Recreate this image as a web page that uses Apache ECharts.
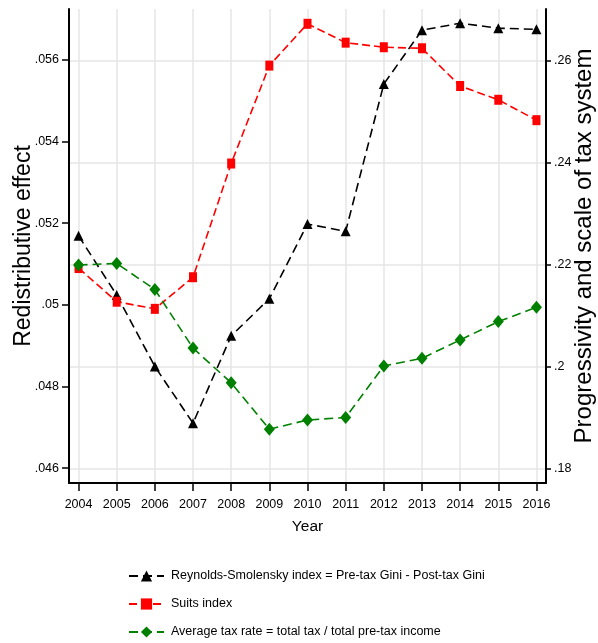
<!DOCTYPE html>
<html>
<head>
<meta charset="utf-8">
<script src="https://cdn.jsdelivr.net/npm/echarts@6/dist/echarts.min.js"></script>
<style>
html,body{margin:0;padding:0;background:#fff;}
#chart{width:598px;height:643px;}
</style>
</head>
<body>
<div id="chart"></div>
<script>
const years = [2004, 2005, 2006, 2007, 2008, 2009, 2010, 2011, 2012, 2013, 2014, 2015, 2016];
const reynoldsSmolensky = [0.05169, 0.05024, 0.04849, 0.04710, 0.04924, 0.05015, 0.05198, 0.05180, 0.05541, 0.05673, 0.05690, 0.05678, 0.05675];
const suitsIndex = [0.2194, 0.2128, 0.2114, 0.2176, 0.2399, 0.2591, 0.2673, 0.2636, 0.2627, 0.2625, 0.2551, 0.2524, 0.2484];
const avgTaxRate = [0.2200, 0.2203, 0.2152, 0.2037, 0.1969, 0.1878, 0.1896, 0.1901, 0.2002, 0.2017, 0.2053, 0.2089, 0.2117];
const leftTicks = [0.046, 0.048, 0.050, 0.052, 0.054, 0.056];
const rightTicks = [0.18, 0.20, 0.22, 0.24, 0.26];
const seriesNames = [
  'Reynolds-Smolensky index = Pre-tax Gini - Post-tax Gini',
  'Suits index',
  'Average tax rate = total tax / total pre-tax income'
];

const FONT = '"Liberation Sans", Arial, sans-serif';
const fmt = v => String(+v.toFixed(3)).replace(/^0/, '');
const pairs = arr => years.map((y, i) => [y, arr[i]]);

const chart = echarts.init(document.getElementById('chart'), null, {renderer: 'canvas'});
chart.setOption({
  animation: false,
  backgroundColor: '#fff',
  grid: {left: 69, right: 52, top: 9, bottom: 160, containLabel: false, outerBoundsMode: 'none'},
  legend: {
    orient: 'vertical',
    left: 128,
    top: 568,
    padding: 0,
    height: 90,
    itemWidth: 35,
    itemHeight: 14,
    itemGap: 12,
    textStyle: {fontFamily: FONT, fontSize: 12.5, color: '#000', lineHeight: 16, padding: [0, 0, 0, 2]},
    data: seriesNames
  },
  xAxis: {
    type: 'value',
    min: 2003.75,
    max: 2016.25,
    name: 'Year',
    nameLocation: 'middle',
    nameGap: 36,
    nameMoveOverlap: false,
    nameTextStyle: {fontFamily: FONT, fontSize: 15.5, color: '#000', verticalAlign: 'top'},
    axisLine: {onZero: false, lineStyle: {color: '#000', width: 2}},
    axisTick: {show: true, length: 8, lineStyle: {color: '#000', width: 1.5}, customValues: years},
    axisLabel: {customValues: years, fontFamily: FONT, fontSize: 12.5, color: '#000', margin: 15, formatter: v => String(v)},
    splitLine: {show: true, lineStyle: {color: '#e6e6e6', width: 1.5}}
  },
  yAxis: [
    {
      type: 'value',
      position: 'left',
      min: 0.045634,
      max: 0.057249,
      name: 'Redistributive effect',
      nameLocation: 'middle',
      nameRotate: 90,
      nameGap: 34,
      nameMoveOverlap: false,
      nameTextStyle: {fontFamily: FONT, fontSize: 23, color: '#000'},
      axisLine: {show: true, onZero: false, lineStyle: {color: '#000', width: 2}},
      axisTick: {show: true, length: 7, lineStyle: {color: '#000', width: 1.5}, customValues: leftTicks},
      axisLabel: {customValues: leftTicks, fontFamily: FONT, fontSize: 12.5, color: '#000', margin: 10, formatter: fmt},
      splitLine: {show: false}
    },
    {
      type: 'value',
      position: 'right',
      min: 0.17725,
      max: 0.2702,
      name: 'Progressivity and scale of tax system',
      nameLocation: 'middle',
      nameRotate: 90,
      nameGap: 26,
      nameMoveOverlap: false,
      nameTextStyle: {fontFamily: FONT, fontSize: 24, color: '#000'},
      axisLine: {show: true, onZero: false, lineStyle: {color: '#000', width: 2}},
      axisTick: {show: true, length: 5, lineStyle: {color: '#000', width: 1.5}, customValues: rightTicks},
      axisLabel: {customValues: rightTicks, fontFamily: FONT, fontSize: 12.5, color: '#000', margin: 8, formatter: fmt},
      splitLine: {show: true, lineStyle: {color: '#e6e6e6', width: 1.5}}
    }
  ],
  series: [
    {
      name: seriesNames[0],
      type: 'line',
      yAxisIndex: 0,
      data: pairs(reynoldsSmolensky),
      symbol: 'triangle',
      symbolSize: 10,
      showAllSymbol: true,
      color: '#000',
      lineStyle: {color: '#000', width: 1.6, type: [9, 5]},
      itemStyle: {color: '#000'},
      z: 3
    },
    {
      name: seriesNames[1],
      type: 'line',
      yAxisIndex: 1,
      data: pairs(suitsIndex),
      symbol: 'rect',
      symbolSize: [8, 10],
      showAllSymbol: true,
      color: '#ff0000',
      lineStyle: {color: '#ff0000', width: 1.6, type: [8, 4]},
      itemStyle: {color: '#ff0000'},
      z: 4
    },
    {
      name: seriesNames[2],
      type: 'line',
      yAxisIndex: 1,
      data: pairs(avgTaxRate),
      symbol: 'diamond',
      symbolSize: [11, 13],
      showAllSymbol: true,
      color: '#008000',
      lineStyle: {color: '#008000', width: 1.6, type: [9, 5]},
      itemStyle: {color: '#008000'},
      z: 5
    }
  ]
});
</script>
</body>
</html>
